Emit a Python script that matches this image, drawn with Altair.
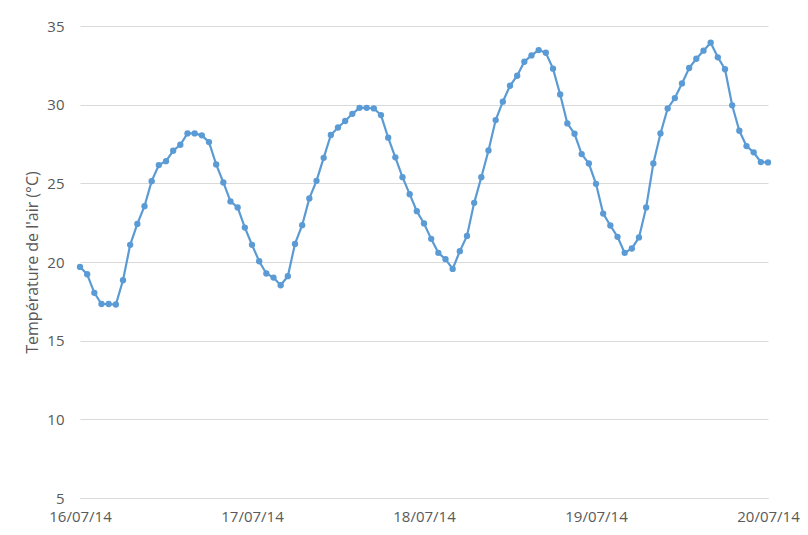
import altair as alt
import pandas as pd

# Hourly readings, 16/07/14 00:00 -> 20/07/14 00:00
hours = list(range(97))
temperature = [
    19.69, 19.22, 18.04, 17.33, 17.33, 17.30, 18.84, 21.09, 22.42, 23.55,
    25.14, 26.16, 26.41, 27.07, 27.45, 28.17, 28.17, 28.05, 27.62, 26.20,
    25.06, 23.85, 23.47, 22.19, 21.09, 20.05, 19.27, 19.01, 18.52, 19.10,
    21.15, 22.34, 24.04, 25.16, 26.62, 28.07, 28.55, 28.96, 29.42, 29.80,
    29.80, 29.76, 29.34, 27.90, 26.65, 25.39, 24.31, 23.23, 22.45, 21.47,
    20.58, 20.18, 19.56, 20.69, 21.66, 23.76, 25.39, 27.09, 29.02, 30.19,
    31.20, 31.84, 32.73, 33.13, 33.47, 33.30, 32.29, 30.65, 28.81, 28.15,
    26.86, 26.26, 24.97, 23.08, 22.32, 21.60, 20.58, 20.86, 21.56, 23.47,
    26.26, 28.17, 29.76, 30.42, 31.35, 32.33, 32.92, 33.43, 33.94, 33.01,
    32.25, 29.96, 28.34, 27.37, 26.97, 26.35, 26.33,
]
day_labels = ["16/07/14", "17/07/14", "18/07/14", "19/07/14", "20/07/14"]
day_ticks = [0, 24, 48, 72, 96]
y_ticks = [5, 10, 15, 20, 25, 30, 35]

df = pd.DataFrame({"h": hours, "t": temperature})

label_expr = "[" + ",".join("'" + s + "'" for s in day_labels) + "][round(datum.value / 24)]"

base = alt.Chart(df).encode(
    x=alt.X(
        "h:Q",
        scale=alt.Scale(domain=[0, 96], nice=False, zero=False),
        axis=alt.Axis(
            values=day_ticks,
            labelExpr=label_expr,
            title=None,
            grid=False,
            ticks=False,
            domain=True,
            domainColor="#d9d9d9",
            domainWidth=1,
            labelPadding=11,
            labelFlush=False,
            labelBaseline="top",
        ),
    ),
    y=alt.Y(
        "t:Q",
        scale=alt.Scale(domain=[5, 35], nice=False, zero=False),
        axis=alt.Axis(
            values=y_ticks,
            title="Température de l'air (°C)",
            grid=True,
            gridColor="#d9d9d9",
            gridWidth=1,
            ticks=False,
            domain=False,
            labelPadding=16,
            titlePadding=6,
        ),
    ),
)

line = base.mark_line(color="#5B9BD5", strokeWidth=2.2)
pts = base.mark_circle(color="#5B9BD5", size=40, opacity=1)

chart = (
    (line + pts)
    .properties(
        width=688,
        height=472,
        autosize=alt.AutoSizeParams(type="none"),
        padding={"left": 72, "top": 18, "right": 32, "bottom": 29},
        background="white",
    )
    .configure_view(stroke=None)
    .configure_axis(
        labelFont="Open Sans",
        labelFontSize=15,
        labelColor="#595959",
        titleFont="Open Sans",
        titleFontSize=16,
        titleFontWeight="normal",
        titleColor="#595959",
    )
)

chart.save("out.html", embed_options={"renderer": "svg", "actions": False})
